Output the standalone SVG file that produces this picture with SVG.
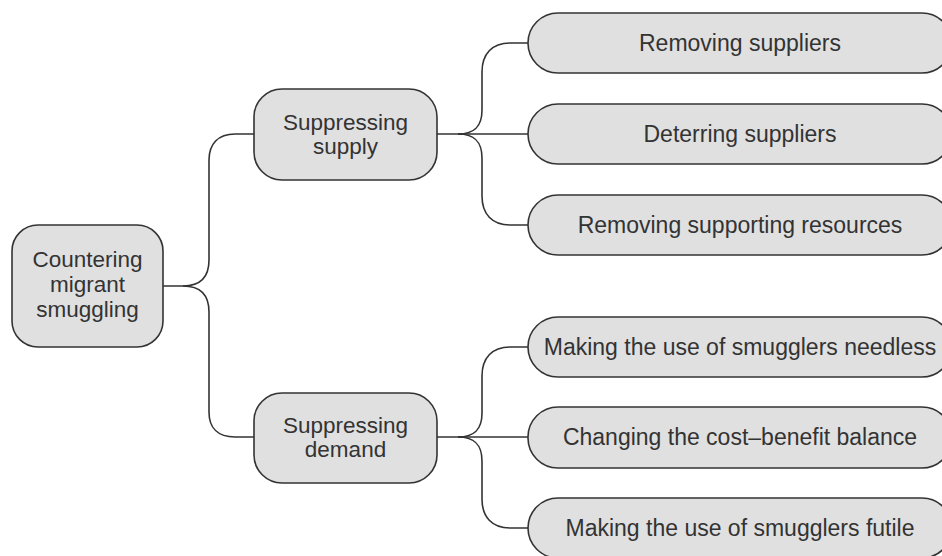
<svg xmlns="http://www.w3.org/2000/svg" width="942" height="556" viewBox="0 0 942 556">
<style>
.box{fill:#e0e0e0;stroke:#333;stroke-width:1.6}
.lbl{font-family:"Liberation Sans",Arial,sans-serif;fill:#333;text-anchor:middle}
.mid{font-size:22.5px}
.leaf{font-size:23px}
.con{fill:none;stroke:#333;stroke-width:1.6}
</style>
<rect width="942" height="556" fill="#fff"/>
<g id="connectors">
<path class="con" d="M163,286 H183 C200,286 209,278 209,260 V160 C209,144 218,134 235,134 H254"/>
<path class="con" d="M183,286 C200,286 209,294 209,312 V412 C209,428 218,437 235,437 H254"/>
<path class="con" d="M437,134 H528"/>
<path class="con" d="M458,134 C475,134 482,126 482,110 V72 C482,54 492,43 510,43 H528"/>
<path class="con" d="M458,134 C475,134 482,142 482,158 V196 C482,214 492,225 510,225 H528"/>
<path class="con" d="M437,437 H528"/>
<path class="con" d="M458,437 C475,437 482,429 482,413 V376 C482,358 492,347 510,347 H528"/>
<path class="con" d="M458,437 C475,437 482,445 482,461 V499 C482,517 492,528 510,528 H528"/>
</g>
<g id="root">
<rect class="box" x="12" y="225" width="151" height="122" rx="26"/>
<text class="lbl mid" x="87.5" y="267">Countering</text>
<text class="lbl mid" x="87.5" y="292">migrant</text>
<text class="lbl mid" x="87.5" y="317">smuggling</text>
</g>
<g id="supply">
<rect class="box" x="254" y="89" width="183" height="91" rx="28"/>
<text class="lbl mid" x="345.5" y="130">Suppressing</text>
<text class="lbl mid" x="345.5" y="154">supply</text>
</g>
<g id="demand">
<rect class="box" x="254" y="393" width="183" height="90" rx="28"/>
<text class="lbl mid" x="345.5" y="433">Suppressing</text>
<text class="lbl mid" x="345.5" y="457">demand</text>
</g>
<g id="leaf1">
<rect class="box" x="528" y="13" width="424" height="60" rx="30"/>
<text class="lbl leaf" x="740" y="51">Removing suppliers</text>
</g>
<g id="leaf2">
<rect class="box" x="528" y="104" width="424" height="60" rx="30"/>
<text class="lbl leaf" x="740" y="142">Deterring suppliers</text>
</g>
<g id="leaf3">
<rect class="box" x="528" y="195" width="424" height="60" rx="30"/>
<text class="lbl leaf" x="740" y="233">Removing supporting resources</text>
</g>
<g id="leaf4">
<rect class="box" x="528" y="317" width="424" height="60" rx="30"/>
<text class="lbl leaf" x="740" y="355">Making the use of smugglers needless</text>
</g>
<g id="leaf5">
<rect class="box" x="528" y="407" width="424" height="61" rx="30"/>
<text class="lbl leaf" x="740" y="445">Changing the cost–benefit balance</text>
</g>
<g id="leaf6">
<rect class="box" x="528" y="498" width="424" height="60" rx="30"/>
<text class="lbl leaf" x="740" y="536">Making the use of smugglers futile</text>
</g>
</svg>
